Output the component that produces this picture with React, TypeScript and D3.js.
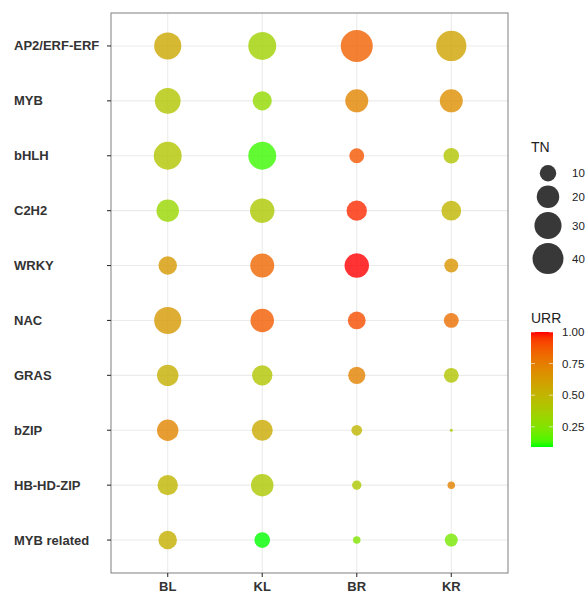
import React from "react";
import * as d3 from "d3";

const xCats = ["BL", "KL", "BR", "KR"];
const yCats = ["AP2/ERF-ERF", "MYB", "bHLH", "C2H2", "WRKY", "NAC", "GRAS", "bZIP", "HB-HD-ZIP", "MYB related"];

// TN per family (same order as yCats) for each tissue
const tnBL = [30, 27, 32, 20, 13, 30, 18, 18, 16, 13];
const tnKL = [32, 14, 32, 24, 23, 22, 16, 17, 20, 9];
const tnBR = [43, 21, 8, 16, 24, 12, 11, 4, 3, 2];
const tnKR = [38, 21, 9, 15, 7, 8, 8, 1, 2, 6];

// URR per family for each tissue
const urrBL = [0.56, 0.42, 0.42, 0.32, 0.63, 0.63, 0.53, 0.72, 0.5, 0.53];
const urrKL = [0.35, 0.3, 0.12, 0.4, 0.83, 0.86, 0.42, 0.55, 0.4, 0.09];
const urrBR = [0.85, 0.72, 0.88, 0.97, 1.0, 0.9, 0.73, 0.5, 0.4, 0.25];
const urrKR = [0.58, 0.68, 0.42, 0.5, 0.65, 0.8, 0.42, 0.4, 0.73, 0.22];

const sizeBreaks = [10, 20, 30, 40];
const colorBreaks = [0.25, 0.5, 0.75, 1.0];

const W = 587;
const H = 594;
const panel = { left: 111, right: 508, top: 13, bottom: 573 };

export default function App() {
  const tnCols = [tnBL, tnKL, tnBR, tnKR];
  const urrCols = [urrBL, urrKL, urrBR, urrKR];
  const points: { x: string; y: string; tn: number; urr: number }[] = [];
  xCats.forEach((xc, i) => {
    yCats.forEach((yc, j) => {
      points.push({ x: xc, y: yc, tn: tnCols[i][j], urr: urrCols[i][j] });
    });
  });

  const x = d3.scalePoint<string>().domain(xCats).range([panel.left, panel.right]).padding(0.6);
  const y = d3.scalePoint<string>().domain(yCats).range([panel.top, panel.bottom]).padding(0.6);

  const tnExt = d3.extent(points, (d) => d.tn) as [number, number];
  const urrExt = d3.extent(points, (d) => d.urr) as [number, number];

  const rMin = 1.5;
  const rMax = 16;
  const r = (v: number) => rMin + (rMax - rMin) * Math.sqrt((v - tnExt[0]) / (tnExt[1] - tnExt[0]));

  const color = d3
    .scaleLinear<string>()
    .domain(urrExt)
    .range(["#00ff00", "#ff0000"])
    .interpolate(d3.interpolateLab);

  // size legend layout
  const legX = 548;
  let cy = 163;
  const sizeKeys = sizeBreaks.map((v) => {
    const rr = r(v);
    const h = 2 * rr + 4;
    const c = cy + h / 2;
    cy += h;
    return { v, rr, c };
  });

  // colour bar
  const barX = 531;
  const barW = 22;
  const barTop = 332;
  const barBot = 447;
  const barY = d3.scaleLinear().domain([urrExt[1], urrExt[0]]).range([barTop, barBot]);
  const stops = d3.range(0, 1.0001, 0.05).map((t) => ({
    off: t,
    col: color(urrExt[1] - t * (urrExt[1] - urrExt[0])),
  }));

  return (
    <svg width={W} height={H} style={{ position: "absolute", left: 0, top: 0, background: "#fff" }}>
      <defs>
        <linearGradient id="urrGrad" x1="0" y1="0" x2="0" y2="1">
          {stops.map((s, i) => (
            <stop key={i} offset={s.off} stopColor={s.col} />
          ))}
        </linearGradient>
      </defs>
      <rect x={0} y={0} width={W} height={H} fill="#fff" />
      {/* grid */}
      {xCats.map((c) => (
        <line key={c} x1={x(c)} x2={x(c)} y1={panel.top} y2={panel.bottom} stroke="#ebebeb" strokeWidth={1.1} />
      ))}
      {yCats.map((c) => (
        <line key={c} y1={y(c)} y2={y(c)} x1={panel.left} x2={panel.right} stroke="#ebebeb" strokeWidth={1.1} />
      ))}
      {/* points */}
      {points.map((p, i) => (
        <circle key={i} cx={x(p.x)} cy={y(p.y)} r={r(p.tn)} fill={color(p.urr)} fillOpacity={0.8} />
      ))}
      {/* panel border */}
      <rect
        x={panel.left}
        y={panel.top}
        width={panel.right - panel.left}
        height={panel.bottom - panel.top}
        fill="none"
        stroke="#8a8a8a"
        strokeWidth={1.1}
      />
      {/* y axis */}
      {yCats.map((c) => (
        <g key={c}>
          <line x1={panel.left - 4} x2={panel.left} y1={y(c)} y2={y(c)} stroke="#333" strokeWidth={1.1} />
          <text
            x={14}
            y={y(c)}
            dy="0.35em"
            fontFamily="Liberation Sans, Arial, sans-serif"
            fontWeight="bold"
            fontSize={13}
            fill="#333"
          >
            {c}
          </text>
        </g>
      ))}
      {/* x axis */}
      {xCats.map((c) => (
        <g key={c}>
          <line x1={x(c)} x2={x(c)} y1={panel.bottom} y2={panel.bottom + 4} stroke="#333" strokeWidth={1.1} />
          <text
            x={x(c)}
            y={panel.bottom + 18}
            textAnchor="middle"
            fontFamily="Liberation Sans, Arial, sans-serif"
            fontWeight="bold"
            fontSize={13}
            fill="#333"
          >
            {c}
          </text>
        </g>
      ))}
      {/* TN legend */}
      <text x={531} y={152} fontFamily="Liberation Sans, Arial, sans-serif" fontSize={14} fill="#222">
        TN
      </text>
      {sizeKeys.map((k) => (
        <g key={k.v}>
          <circle cx={legX} cy={k.c} r={k.rr} fill="#222" fillOpacity={0.9} />
          <text
            x={572}
            y={k.c}
            dy="0.35em"
            fontFamily="Liberation Sans, Arial, sans-serif"
            fontSize={11.5}
            fill="#222"
          >
            {k.v}
          </text>
        </g>
      ))}
      {/* URR legend */}
      <text x={531} y={323} fontFamily="Liberation Sans, Arial, sans-serif" fontSize={14} fill="#222">
        URR
      </text>
      <rect x={barX} y={barTop} width={barW} height={barBot - barTop} fill="url(#urrGrad)" />
      {colorBreaks.map((b) => (
        <g key={b}>
          <line x1={barX} x2={barX + 4} y1={barY(b)} y2={barY(b)} stroke="#fff" strokeOpacity={0.6} />
          <line x1={barX + barW - 4} x2={barX + barW} y1={barY(b)} y2={barY(b)} stroke="#fff" strokeOpacity={0.6} />
          <text
            x={562}
            y={barY(b)}
            dy="0.35em"
            fontFamily="Liberation Sans, Arial, sans-serif"
            fontSize={11.5}
            fill="#222"
          >
            {b.toFixed(2)}
          </text>
        </g>
      ))}
    </svg>
  );
}
